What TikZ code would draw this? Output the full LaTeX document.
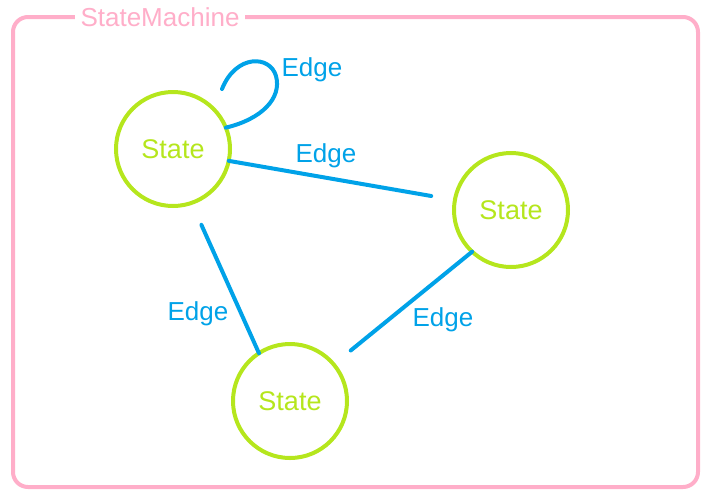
\documentclass[tikz,border=0pt]{standalone}
\usepackage{fontspec}
\setmainfont{Liberation Sans}
\definecolor{rose}{RGB}{255,174,201}
\definecolor{lime}{RGB}{181,230,29}
\definecolor{sky}{RGB}{0,162,232}
\tikzset{
  statenode/.style={circle,draw=lime,line width=4pt,minimum size=114pt,inner sep=0pt,outer sep=0pt,text=lime,font=\fontsize{27}{30}\selectfont},
  edgeline/.style={draw=sky,line width=4pt,line cap=round},
  edgelabel/.style={text=sky,font=\fontsize{26}{29}\selectfont,inner sep=0pt},
  titlelabel/.style={fill=white,text=rose,font=\fontsize{26}{29}\selectfont,inner xsep=6pt,inner ysep=2pt}
}
\begin{document}
\begin{tikzpicture}[x=1pt,y=-1pt]
\useasboundingbox (0,0) rectangle (709,499);
\draw[rose,line width=4pt,rounded corners=15pt] (13,17) rectangle (698,487);
\node[titlelabel] (title) at (160,17) {StateMachine};
\node[statenode] (s1) at (173,149) {State};
\node[statenode] (s2) at (511,210) {State};
\node[statenode] (s3) at (290,401) {State};
\coordinate (loopend) at (222,89);
\draw[edgeline] (s1.22) .. controls (262,119) and (282,98) .. (276,76) .. controls (270,55) and (236,54) .. (loopend);
\draw[edgeline,shorten >=24pt] (s1.-12) -- (s2.170);
\draw[edgeline,shorten <=24pt] (s1.-71) -- (s3.123);
\draw[edgeline,shorten >=22pt] (s2.227) -- (s3.40);
\node[edgelabel] (l0) at (312,70) {Edge};
\node[edgelabel] (l1) at (326,156) {Edge};
\node[edgelabel] (l2) at (198,314) {Edge};
\node[edgelabel] (l3) at (443,320) {Edge};
\end{tikzpicture}
\end{document}
